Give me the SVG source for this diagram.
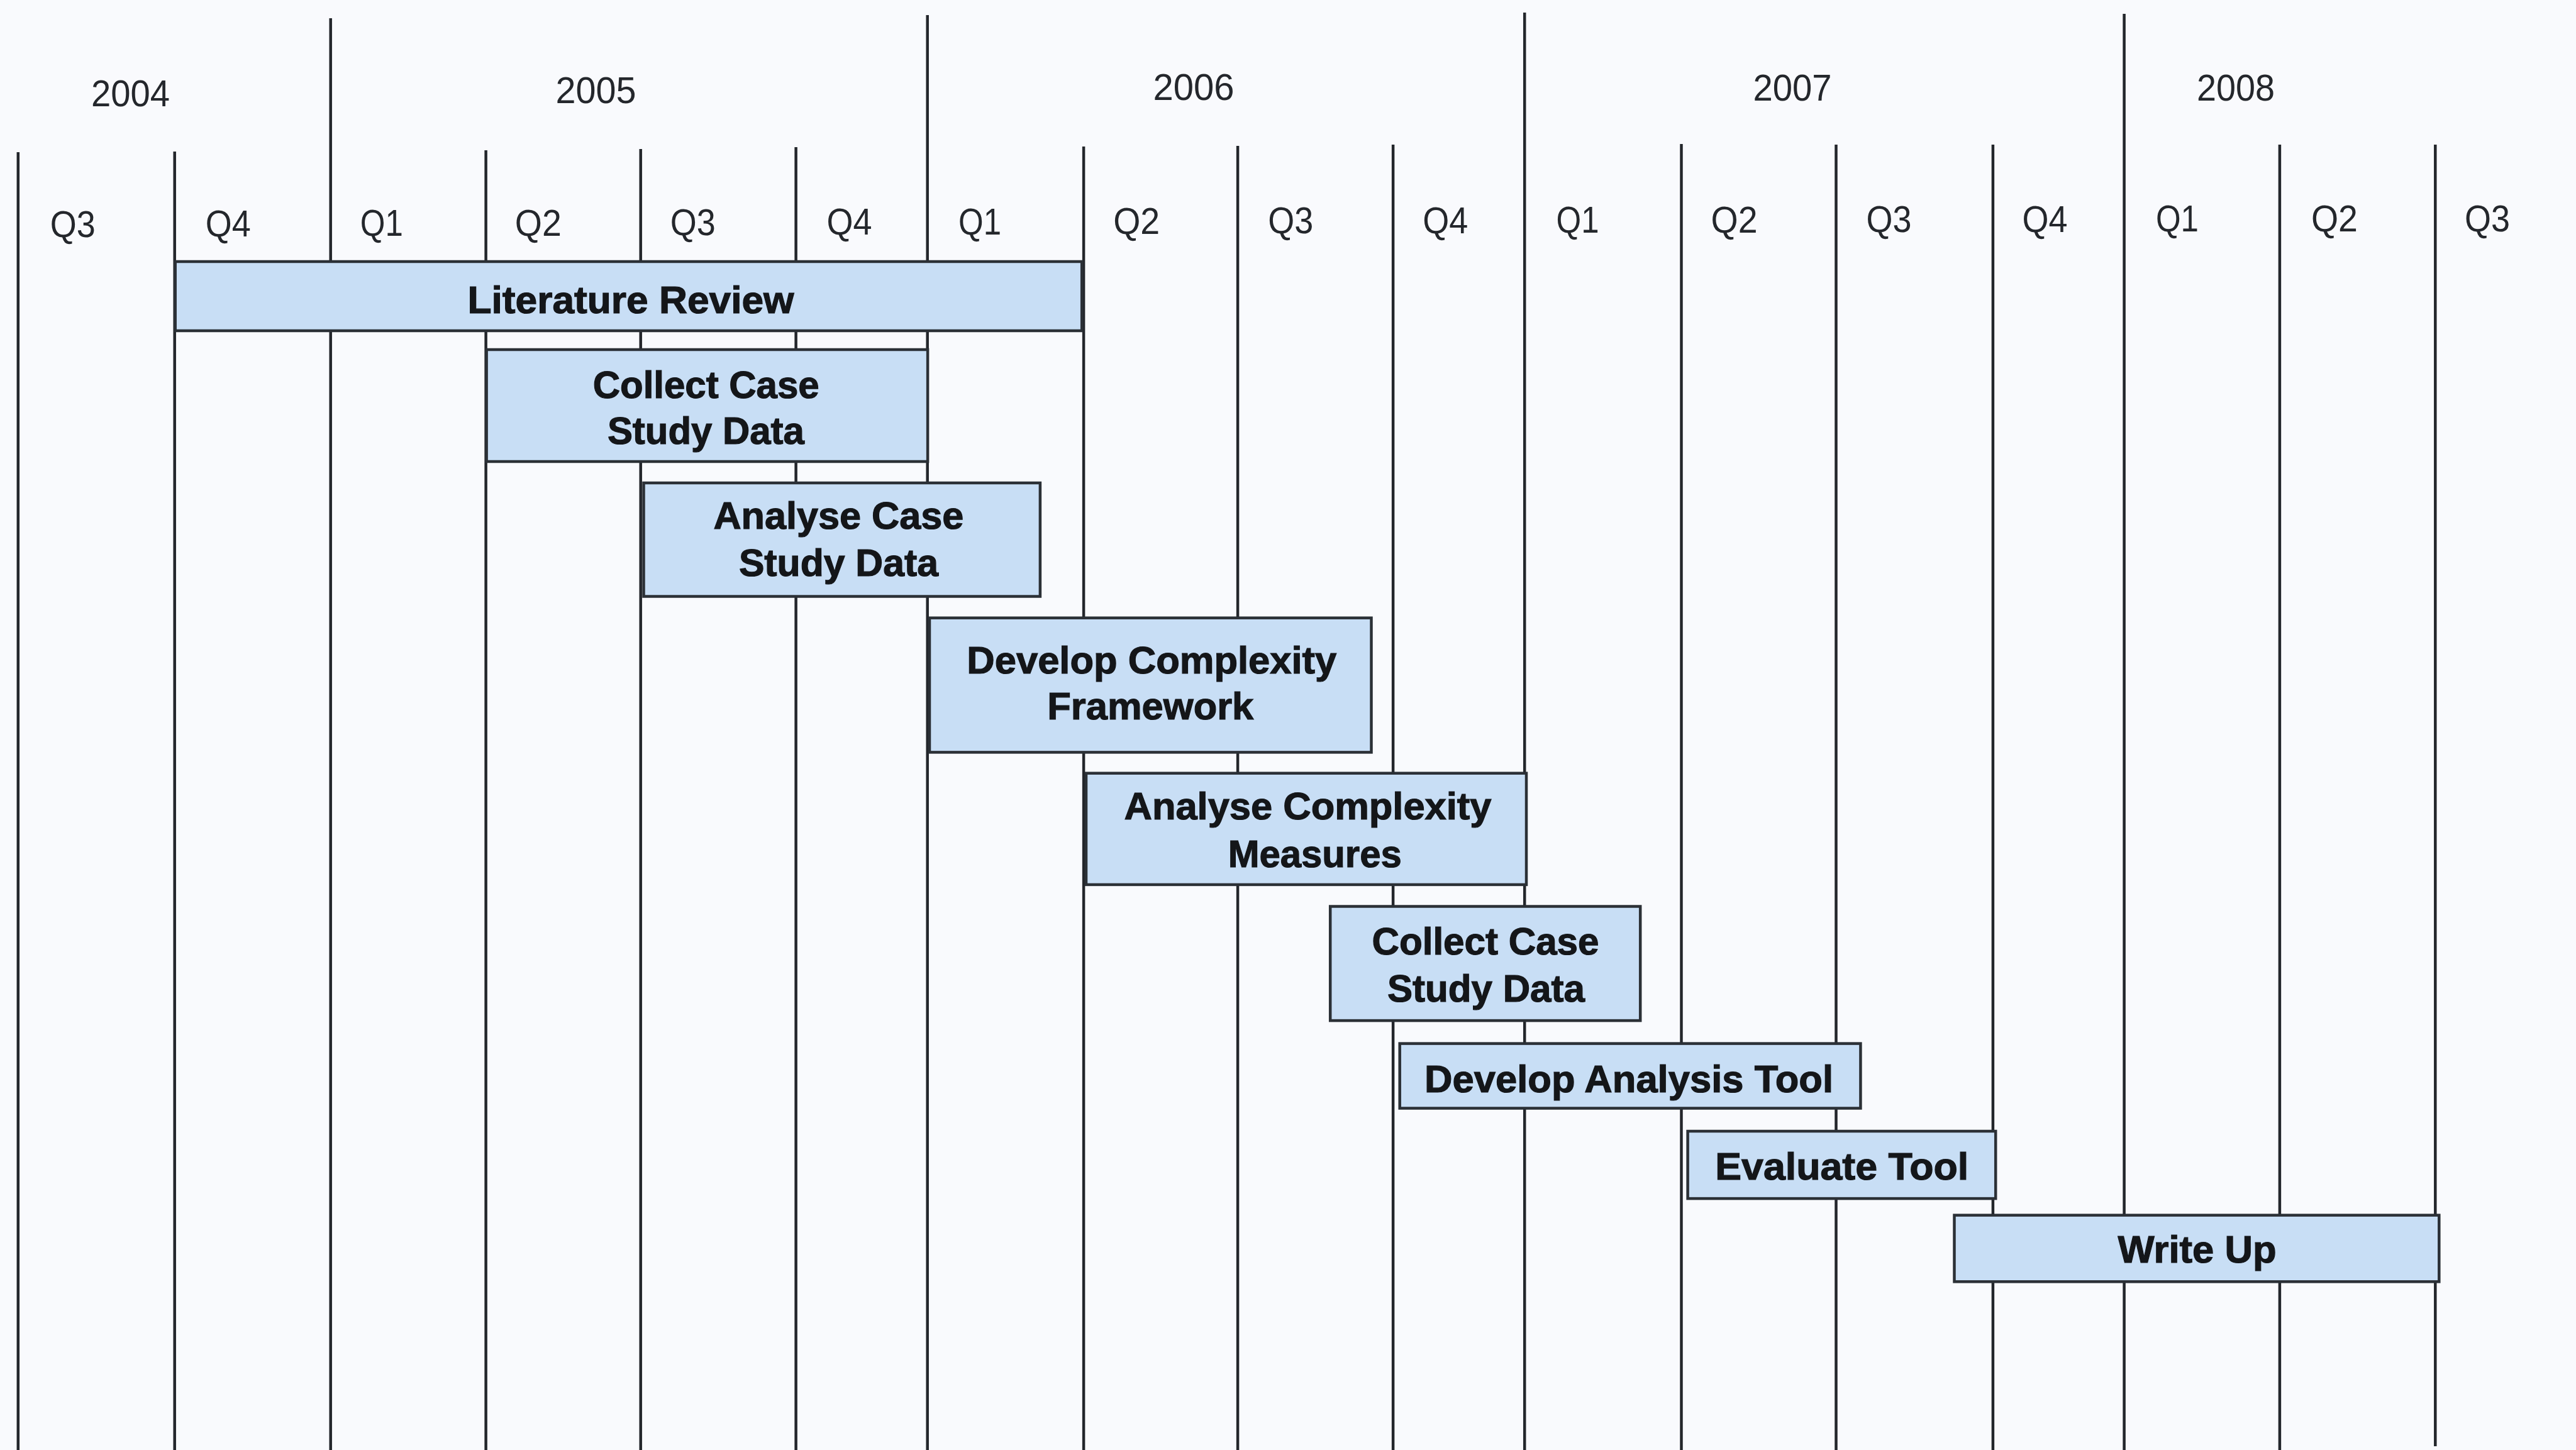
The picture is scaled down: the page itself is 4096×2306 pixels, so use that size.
<svg xmlns="http://www.w3.org/2000/svg" width="4096" height="2306" viewBox="0 0 4096 2306">
<style>
.bg{fill:#f9fafd}
.grid line{stroke:#23262b;stroke-width:4.5}
.yr{font-family:"Liberation Sans",Arial,sans-serif;font-size:60px;fill:#24272c;text-anchor:middle}
.q{font-family:"Liberation Sans",Arial,sans-serif;font-size:60px;fill:#24272c}
.bar{fill:#c8def5;stroke:#2b3036;stroke-width:4.5}
.lbl{font-family:"Liberation Sans",Arial,sans-serif;font-weight:bold;font-size:61px;fill:#141619;stroke:#141619;stroke-width:1.2;text-anchor:middle}
</style>
<rect class="bg" x="0" y="0" width="4096" height="2306"/>
<g id="gridlines" class="grid">
<line x1="28.8" y1="242" x2="28.8" y2="2306"/>
<line x1="277.7" y1="241" x2="277.7" y2="2306"/>
<line x1="525.7" y1="29" x2="525.7" y2="2306"/>
<line x1="772.6" y1="239" x2="772.6" y2="2306"/>
<line x1="1018.7" y1="237" x2="1018.7" y2="2306"/>
<line x1="1265.6" y1="234" x2="1265.6" y2="2306"/>
<line x1="1474.7" y1="24" x2="1474.7" y2="2306"/>
<line x1="1723.1" y1="233" x2="1723.1" y2="2306"/>
<line x1="1968.1" y1="232" x2="1968.1" y2="2306"/>
<line x1="2215.1" y1="230" x2="2215.1" y2="2306"/>
<line x1="2424.2" y1="20" x2="2424.2" y2="2306"/>
<line x1="2673.5" y1="229" x2="2673.5" y2="2306"/>
<line x1="2919.5" y1="230" x2="2919.5" y2="2306"/>
<line x1="3168.9" y1="230" x2="3168.9" y2="2306"/>
<line x1="3377.6" y1="22" x2="3377.6" y2="2306"/>
<line x1="3624.9" y1="230" x2="3624.9" y2="2306"/>
<line x1="3872.3" y1="230" x2="3872.3" y2="2300"/>
</g>
<g id="years">
<text class="yr" x="207.6" y="169" textLength="125" lengthAdjust="spacingAndGlyphs">2004</text>
<text class="yr" x="947.5" y="164" textLength="128" lengthAdjust="spacingAndGlyphs">2005</text>
<text class="yr" x="1898" y="159" textLength="129" lengthAdjust="spacingAndGlyphs">2006</text>
<text class="yr" x="2850" y="159.5" textLength="125" lengthAdjust="spacingAndGlyphs">2007</text>
<text class="yr" x="3555" y="159.5" textLength="124" lengthAdjust="spacingAndGlyphs">2008</text>
</g>
<g id="quarters">
<text class="q" x="79.8" y="377" textLength="72" lengthAdjust="spacingAndGlyphs">Q3</text>
<text class="q" x="326.7" y="376" textLength="72" lengthAdjust="spacingAndGlyphs">Q4</text>
<text class="q" x="572.8" y="375" textLength="68" lengthAdjust="spacingAndGlyphs">Q1</text>
<text class="q" x="818.8" y="375" textLength="74" lengthAdjust="spacingAndGlyphs">Q2</text>
<text class="q" x="1065.7" y="374" textLength="72" lengthAdjust="spacingAndGlyphs">Q3</text>
<text class="q" x="1314.6" y="373" textLength="72" lengthAdjust="spacingAndGlyphs">Q4</text>
<text class="q" x="1524.1" y="373" textLength="68" lengthAdjust="spacingAndGlyphs">Q1</text>
<text class="q" x="1770.2" y="372" textLength="74" lengthAdjust="spacingAndGlyphs">Q2</text>
<text class="q" x="2016.2" y="371" textLength="72" lengthAdjust="spacingAndGlyphs">Q3</text>
<text class="q" x="2262.2" y="371" textLength="72" lengthAdjust="spacingAndGlyphs">Q4</text>
<text class="q" x="2474.6" y="370" textLength="68" lengthAdjust="spacingAndGlyphs">Q1</text>
<text class="q" x="2720.6" y="370" textLength="74" lengthAdjust="spacingAndGlyphs">Q2</text>
<text class="q" x="2967.6" y="369" textLength="72" lengthAdjust="spacingAndGlyphs">Q3</text>
<text class="q" x="3215.5" y="369" textLength="72" lengthAdjust="spacingAndGlyphs">Q4</text>
<text class="q" x="3427.9" y="368" textLength="68" lengthAdjust="spacingAndGlyphs">Q1</text>
<text class="q" x="3674.9" y="368" textLength="74" lengthAdjust="spacingAndGlyphs">Q2</text>
<text class="q" x="3919" y="368" textLength="72" lengthAdjust="spacingAndGlyphs">Q3</text>
</g>
<g id="connectors"/>
<g id="literature-review">
<rect class="bar" x="278.7" y="416" width="1441.5" height="110"/>
<text class="lbl" x="1003" y="498" textLength="519" lengthAdjust="spacingAndGlyphs">Literature Review</text>
</g>
<g id="collect-case-study-data-1">
<rect class="bar" x="773.6" y="556" width="701.5" height="178"/>
<text class="lbl" x="1122.7" y="633" textLength="360" lengthAdjust="spacingAndGlyphs">Collect Case</text>
<text class="lbl" x="1122.4" y="706" textLength="313" lengthAdjust="spacingAndGlyphs">Study Data</text>
</g>
<g id="analyse-case-study-data">
<rect class="bar" x="1023.5" y="768" width="630.4" height="180.5"/>
<text class="lbl" x="1333.4" y="841" textLength="398" lengthAdjust="spacingAndGlyphs">Analyse Case</text>
<text class="lbl" x="1333.4" y="916" textLength="317" lengthAdjust="spacingAndGlyphs">Study Data</text>
</g>
<g id="develop-complexity-framework">
<rect class="bar" x="1478" y="982.7" width="702.5" height="213.7"/>
<text class="lbl" x="1831.3" y="1070.6" textLength="588" lengthAdjust="spacingAndGlyphs">Develop Complexity</text>
<text class="lbl" x="1829.3" y="1144" textLength="328" lengthAdjust="spacingAndGlyphs">Framework</text>
</g>
<g id="analyse-complexity-measures">
<rect class="bar" x="1727" y="1229.7" width="700" height="177.2"/>
<text class="lbl" x="2079.5" y="1303" textLength="584" lengthAdjust="spacingAndGlyphs">Analyse Complexity</text>
<text class="lbl" x="2090.7" y="1379" textLength="276" lengthAdjust="spacingAndGlyphs">Measures</text>
</g>
<g id="collect-case-study-data-2">
<rect class="bar" x="2115.2" y="1441.5" width="493" height="181.6"/>
<text class="lbl" x="2362" y="1518" textLength="361" lengthAdjust="spacingAndGlyphs">Collect Case</text>
<text class="lbl" x="2363" y="1593" textLength="314" lengthAdjust="spacingAndGlyphs">Study Data</text>
</g>
<g id="develop-analysis-tool">
<rect class="bar" x="2225.7" y="1659.6" width="732.7" height="102.9"/>
<text class="lbl" x="2590" y="1736.5" textLength="650" lengthAdjust="spacingAndGlyphs">Develop Analysis Tool</text>
</g>
<g id="evaluate-tool">
<rect class="bar" x="2683.6" y="1799" width="489.6" height="107.1"/>
<text class="lbl" x="2928.7" y="1876" textLength="403" lengthAdjust="spacingAndGlyphs">Evaluate Tool</text>
</g>
<g id="write-up">
<rect class="bar" x="3107.5" y="1932.6" width="770.8" height="105.7"/>
<text class="lbl" x="3493.5" y="2008" textLength="252" lengthAdjust="spacingAndGlyphs">Write Up</text>
</g>
</svg>
